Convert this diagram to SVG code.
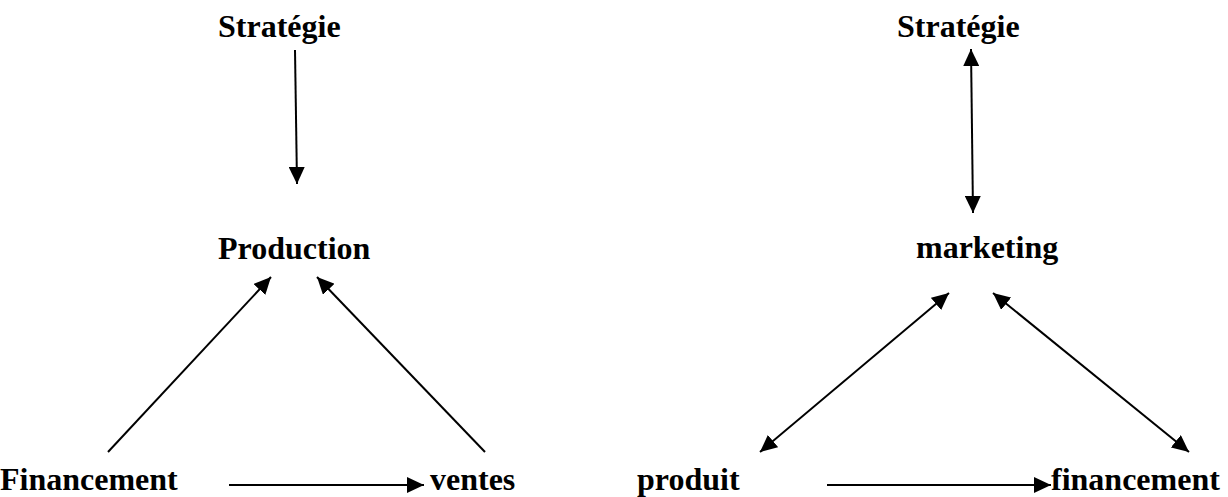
<svg xmlns="http://www.w3.org/2000/svg" width="1228" height="497" viewBox="0 0 1228 497">
<style>
.t{font-family:"Liberation Serif","Times New Roman",serif;font-weight:bold;font-size:32px;fill:#000}
.c{stroke:#000;stroke-width:2;fill:none}
.a{marker-end:url(#ah)}
.d{marker-start:url(#ah);marker-end:url(#ah)}
</style>
<defs>
<marker id="ah" viewBox="0 0 17 16" refX="17" refY="8" markerWidth="17" markerHeight="16" markerUnits="userSpaceOnUse" orient="auto-start-reverse">
<path d="M0,0 L17,8 L0,16 z" fill="#000"/>
</marker>
</defs>
<rect width="1228" height="497" fill="#fff"/>
<g id="strategie-left"><text class="t" x="218" y="37">Stratégie</text></g>
<g id="production"><text class="t" x="218" y="259">Production</text></g>
<g id="financement-left"><text class="t" x="0" y="490">Financement</text></g>
<g id="ventes"><text class="t" x="430" y="490">ventes</text></g>
<g id="strategie-right"><text class="t" x="897" y="37">Stratégie</text></g>
<g id="marketing"><text class="t" x="916" y="258">marketing</text></g>
<g id="produit"><text class="t" x="637" y="490">produit</text></g>
<g id="financement-right"><text class="t" x="1051" y="490">financement</text></g>
<g id="connectors">
<line class="c a" x1="295" y1="50" x2="297" y2="184"/>
<line class="c a" x1="108" y1="452" x2="271" y2="277"/>
<line class="c a" x1="485" y1="452" x2="317" y2="277"/>
<line class="c a" x1="229" y1="485" x2="424" y2="485"/>
<line class="c d" x1="971" y1="49" x2="973" y2="213"/>
<line class="c d" x1="760" y1="452" x2="949" y2="293"/>
<line class="c d" x1="993" y1="293" x2="1189" y2="452"/>
<line class="c a" x1="827" y1="485" x2="1051" y2="485"/>
</g>
</svg>
